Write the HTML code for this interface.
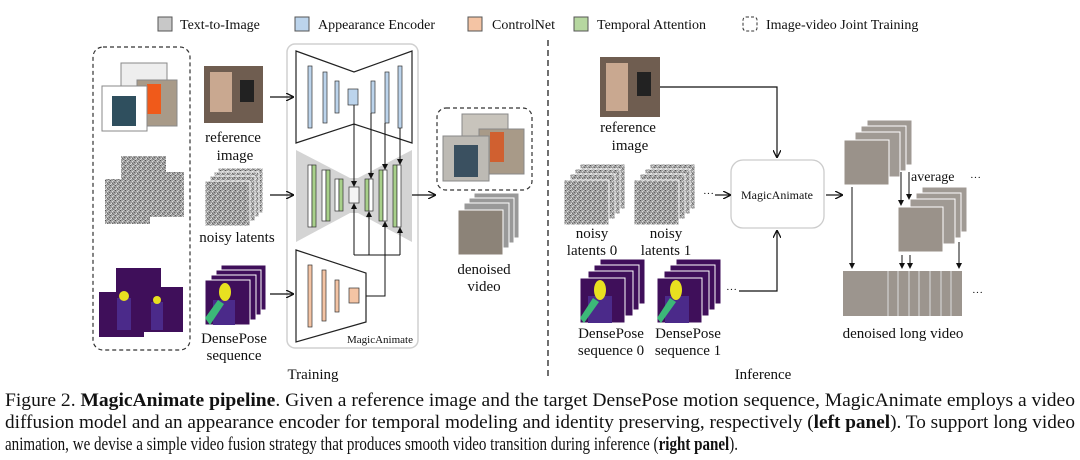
<!DOCTYPE html>
<html><head><meta charset="utf-8"><style>
html,body{margin:0;padding:0;background:#fff;width:1080px;height:460px;overflow:hidden}
svg{display:block}
text{font-family:"Liberation Serif",serif;fill:#111}
</style></head><body>
<svg width="1080" height="460" viewBox="0 0 1080 460" xmlns="http://www.w3.org/2000/svg">
<defs>
<pattern id="nz" width="5" height="5" patternUnits="userSpaceOnUse">
<rect width="5" height="5" fill="#a0a0a0"/><rect x="0" y="0" width="1" height="1" fill="#555"/><rect x="2" y="1" width="1" height="1" fill="#ddd"/><rect x="4" y="2" width="1" height="1" fill="#666"/><rect x="1" y="3" width="1" height="1" fill="#e0e0e0"/><rect x="3" y="4" width="1" height="1" fill="#777"/><rect x="3" y="0" width="1" height="1" fill="#ccc"/><rect x="0" y="4" width="1" height="1" fill="#d8d8d8"/><rect x="2" y="3" width="1" height="1" fill="#6a6a6a"/>
</pattern>
<marker id="ah" markerWidth="8" markerHeight="8" refX="7" refY="4" orient="auto" markerUnits="userSpaceOnUse"><path d="M0,0 L8,4 L0,8" fill="none" stroke="#111" stroke-width="1.3"/></marker>
<marker id="as" markerWidth="6" markerHeight="6" refX="5" refY="3" orient="auto" markerUnits="userSpaceOnUse"><path d="M0,0 L6,3 L0,6 z" fill="#111"/></marker>
</defs>

<g font-size="14">
<rect x="158" y="17" width="14" height="14" fill="#c8c8c8" stroke="#555"/><text x="180" y="29">Text-to-Image</text>
<rect x="295" y="17" width="14" height="14" fill="#bcd4ec" stroke="#555"/><text x="318" y="29">Appearance Encoder</text>
<rect x="468" y="17" width="14" height="14" fill="#f4c4a4" stroke="#555"/><text x="492" y="29">ControlNet</text>
<rect x="574" y="17" width="14" height="14" fill="#b6d7a0" stroke="#555"/><text x="597" y="29">Temporal Attention</text>
<rect x="743" y="17" width="14" height="14" rx="3" fill="none" stroke="#333" stroke-dasharray="3,2"/><text x="766" y="29">Image-video Joint Training</text>
</g>

<rect x="93" y="47" width="97" height="303" rx="10" fill="none" stroke="#333" stroke-width="1.2" stroke-dasharray="4,3"/>
<rect x="121" y="63" width="46" height="33" fill="#eee" stroke="#888"/>
<rect x="137" y="80" width="40" height="46" fill="#a89a88" stroke="#888"/>
<rect x="147" y="84" width="14" height="30" fill="#f05a1a"/>
<rect x="102" y="86" width="45" height="45" fill="#fff" stroke="#888"/>
<rect x="112" y="96" width="24" height="30" fill="#2f4f5e"/>
<rect x="121" y="156" width="45" height="24" fill="url(#nz)"/>
<rect x="139" y="172" width="45" height="45" fill="url(#nz)"/>
<rect x="105" y="179" width="45" height="45" fill="url(#nz)"/>
<rect x="116" y="268" width="45" height="30" fill="#3f0f5a"/>
<rect x="138" y="287" width="45" height="45" fill="#3f0f5a"/>
<rect x="99" y="292" width="45" height="45" fill="#3f0f5a"/>
<rect x="117" y="298" width="14" height="32" fill="#4b2a8a"/><circle cx="124" cy="296" r="5" fill="#e8e020"/>
<rect x="151" y="302" width="12" height="28" fill="#4b2a8a"/><circle cx="157" cy="300" r="4" fill="#e8e020"/>

<rect x="204" y="66" width="59" height="57" fill="#6f5d50"/><rect x="240" y="80" width="14" height="22" fill="#222"/><rect x="210" y="72" width="22" height="40" fill="#c9a890"/>
<text x="233" y="142" font-size="15" text-anchor="middle">reference</text>
<text x="235" y="160" font-size="15" text-anchor="middle">image</text>
<rect x="218" y="168" width="45" height="45" fill="url(#nz)" stroke="#fff"/>
<rect x="214" y="172" width="45" height="45" fill="url(#nz)" stroke="#fff"/>
<rect x="210" y="176" width="45" height="45" fill="url(#nz)" stroke="#fff"/>
<rect x="205" y="181" width="45" height="45" fill="url(#nz)" stroke="#fff"/>
<text x="237" y="242" font-size="15" text-anchor="middle">noisy latents</text>
<rect x="221" y="265" width="45" height="45" fill="#3f0f5a" stroke="#fff"/>
<rect x="216" y="270" width="45" height="45" fill="#3f0f5a" stroke="#fff"/>
<rect x="211" y="275" width="45" height="45" fill="#3f0f5a" stroke="#fff"/>
<rect x="205" y="280" width="45" height="45" fill="#3f0f5a" stroke="#fff"/>
<rect x="213" y="300" width="22" height="25" fill="#4b2a8a"/><path d="M205,318 L218,300 L224,304 L210,325 Z" fill="#3cb878"/><ellipse cx="225" cy="292" rx="6" ry="9" fill="#e8e020"/>
<text x="234" y="343" font-size="15" text-anchor="middle">DensePose</text>
<text x="234" y="360" font-size="15" text-anchor="middle">sequence</text>

<rect x="287" y="44" width="131" height="304" rx="8" fill="none" stroke="#d0d0d0" stroke-width="1.5"/>
<line x1="270" y1="97" x2="293" y2="97" stroke="#111" stroke-width="1.3" marker-end="url(#ah)"/>
<line x1="270" y1="195" x2="293" y2="195" stroke="#111" stroke-width="1.3" marker-end="url(#ah)"/>
<line x1="270" y1="294" x2="293" y2="294" stroke="#111" stroke-width="1.3" marker-end="url(#ah)"/>
<polygon points="296,51 354,72 412,51 412,143 354,124 296,143" fill="#fff" stroke="#222" stroke-width="1.2"/>
<g fill="#bcd4ec" stroke="#333" stroke-width="0.7">
<rect x="308" y="66" width="4" height="62"/><rect x="323" y="72" width="4" height="51"/><rect x="335" y="81" width="4" height="32"/>
<rect x="348" y="89" width="10" height="16"/>
<rect x="371" y="81" width="4" height="32"/><rect x="385" y="72" width="4" height="51"/><rect x="398" y="66" width="4" height="62"/>
</g>
<polygon points="296,150 350,178 358,178 412,150 412,242 358,213 350,213 296,242" fill="#d4d4d4"/>
<g stroke="#333" stroke-width="0.7">
<rect x="308" y="165" width="4" height="62" fill="#fff"/><rect x="312" y="165" width="4" height="62" fill="#a8d08a"/>
<rect x="322" y="170" width="4" height="51" fill="#fff"/><rect x="326" y="170" width="4" height="51" fill="#a8d08a"/>
<rect x="335" y="179" width="4" height="32" fill="#fff"/><rect x="339" y="179" width="4" height="32" fill="#a8d08a"/>
<rect x="349" y="187" width="10" height="16" fill="#f4f4f4"/>
<rect x="365" y="179" width="4" height="32" fill="#a8d08a"/><rect x="369" y="179" width="4" height="32" fill="#fff"/>
<rect x="379" y="170" width="4" height="51" fill="#a8d08a"/><rect x="383" y="170" width="4" height="51" fill="#fff"/>
<rect x="393" y="165" width="4" height="62" fill="#a8d08a"/><rect x="397" y="165" width="4" height="62" fill="#fff"/>
</g>
<g stroke="#111" stroke-width="1" fill="none">
<line x1="354" y1="105" x2="354" y2="186" marker-end="url(#as)"/>
<line x1="371" y1="113" x2="371" y2="178" marker-end="url(#as)"/>
<line x1="385" y1="123" x2="385" y2="169" marker-end="url(#as)"/>
<line x1="400" y1="128" x2="400" y2="164" marker-end="url(#as)"/>
<polyline points="354,255 400,255"/>
<line x1="354" y1="255" x2="354" y2="204" marker-end="url(#as)"/>
<line x1="369" y1="255" x2="369" y2="212" marker-end="url(#as)"/>
<line x1="385" y1="255" x2="385" y2="222" marker-end="url(#as)"/>
<line x1="400" y1="255" x2="400" y2="228" marker-end="url(#as)"/>
<polyline points="359,296 385,296 385,255"/>
</g>
<polygon points="296,250 366,273 366,322 296,342" fill="#fff" stroke="#222" stroke-width="1.2"/>
<g fill="#f4c4a4" stroke="#333" stroke-width="0.7">
<rect x="308" y="265" width="4" height="62"/><rect x="322" y="270" width="4" height="51"/><rect x="335" y="280" width="4" height="32"/>
<rect x="349" y="288" width="10" height="15"/>
</g>
<text x="413" y="343" font-size="11" text-anchor="end">MagicAnimate</text>

<line x1="412" y1="195" x2="435" y2="195" stroke="#111" stroke-width="1.3" marker-end="url(#ah)"/>
<rect x="437" y="108" width="95" height="82" rx="9" fill="none" stroke="#333" stroke-width="1.2" stroke-dasharray="4,3"/>
<rect x="462" y="114" width="46" height="30" fill="#c8c4bc" stroke="#888"/>
<rect x="479" y="129" width="45" height="45" fill="#a89a88" stroke="#888"/>
<rect x="490" y="132" width="14" height="30" fill="#d06030"/>
<rect x="443" y="136" width="46" height="45" fill="#bdbab4" stroke="#888"/>
<rect x="454" y="145" width="24" height="32" fill="#3a5060"/>
<rect x="474" y="193" width="45" height="45" fill="#999" stroke="#fff"/>
<rect x="469" y="198" width="45" height="45" fill="#999" stroke="#fff"/>
<rect x="464" y="203" width="45" height="45" fill="#999" stroke="#fff"/>
<rect x="458" y="210" width="45" height="45" fill="#8c8378" stroke="#fff"/>
<text x="484" y="274" font-size="15" text-anchor="middle">denoised</text>
<text x="484" y="291" font-size="15" text-anchor="middle">video</text>
<text x="313" y="379" font-size="15" text-anchor="middle">Training</text>

<line x1="548" y1="40" x2="548" y2="380" stroke="#222" stroke-width="1.3" stroke-dasharray="6,4"/>

<rect x="600" y="57" width="60" height="60" fill="#6f5d50"/><rect x="637" y="72" width="14" height="24" fill="#222"/><rect x="606" y="63" width="22" height="48" fill="#c9a890"/>
<text x="628" y="132" font-size="15" text-anchor="middle">reference</text>
<text x="630" y="150" font-size="15" text-anchor="middle">image</text>
<polyline points="660,87 777,87 777,157" fill="none" stroke="#111" stroke-width="1.2" marker-end="url(#ah)"/>
<rect x="731" y="160" width="93" height="68" rx="12" fill="#fff" stroke="#ccc" stroke-width="1.3"/>
<text x="777" y="199" font-size="12" text-anchor="middle">MagicAnimate</text>

<g stroke="#fff">
<rect x="580" y="164" width="45" height="45" fill="url(#nz)"/><rect x="575" y="169" width="45" height="45" fill="url(#nz)"/><rect x="570" y="174" width="45" height="45" fill="url(#nz)"/><rect x="564" y="180" width="45" height="45" fill="url(#nz)"/>
<rect x="650" y="164" width="45" height="45" fill="url(#nz)"/><rect x="645" y="169" width="45" height="45" fill="url(#nz)"/><rect x="640" y="174" width="45" height="45" fill="url(#nz)"/><rect x="634" y="180" width="45" height="45" fill="url(#nz)"/>
</g>
<text x="592" y="238" font-size="15" text-anchor="middle">noisy</text>
<text x="592" y="255" font-size="15" text-anchor="middle">latents 0</text>
<text x="666" y="238" font-size="15" text-anchor="middle">noisy</text>
<text x="666" y="255" font-size="15" text-anchor="middle">latents 1</text>
<text x="703" y="197" font-size="11">···</text>
<line x1="715" y1="195" x2="730" y2="195" stroke="#111" stroke-width="1.2" marker-end="url(#ah)"/>

<g stroke="#fff">
<rect x="600" y="259" width="45" height="45" fill="#3f0f5a"/><rect x="594" y="265" width="45" height="45" fill="#3f0f5a"/><rect x="588" y="271" width="45" height="45" fill="#3f0f5a"/><rect x="580" y="278" width="45" height="45" fill="#3f0f5a"/>
<rect x="676" y="259" width="45" height="45" fill="#3f0f5a"/><rect x="670" y="265" width="45" height="45" fill="#3f0f5a"/><rect x="664" y="271" width="45" height="45" fill="#3f0f5a"/><rect x="657" y="278" width="45" height="45" fill="#3f0f5a"/>
</g>
<rect x="588" y="296" width="24" height="27" fill="#4b2a8a"/><path d="M580,318 L593,298 L599,302 L584,323 Z" fill="#3cb878"/><ellipse cx="600" cy="290" rx="6" ry="10" fill="#e8e020"/>
<rect x="665" y="296" width="24" height="27" fill="#4b2a8a"/><path d="M657,318 L670,298 L676,302 L661,323 Z" fill="#3cb878"/><ellipse cx="676" cy="290" rx="6" ry="10" fill="#e8e020"/>
<text x="611" y="338" font-size="15" text-anchor="middle">DensePose</text>
<text x="611" y="355" font-size="15" text-anchor="middle">sequence 0</text>
<text x="688" y="338" font-size="15" text-anchor="middle">DensePose</text>
<text x="688" y="355" font-size="15" text-anchor="middle">sequence 1</text>
<text x="726" y="293" font-size="11">···</text>
<polyline points="739,291 777,291 777,231" fill="none" stroke="#111" stroke-width="1.2" marker-end="url(#ah)"/>
<line x1="826" y1="195" x2="842" y2="195" stroke="#111" stroke-width="1.2" marker-end="url(#ah)"/>

<g stroke="#fff">
<rect x="867" y="120" width="45" height="45" fill="#a09a94"/><rect x="861" y="126" width="45" height="45" fill="#a09a94"/><rect x="855" y="132" width="45" height="45" fill="#a09a94"/>
<rect x="844" y="140" width="45" height="45" fill="#9a928a"/>
<rect x="922" y="187" width="45" height="45" fill="#a09a94"/><rect x="916" y="193" width="45" height="45" fill="#a09a94"/><rect x="910" y="199" width="45" height="45" fill="#a09a94"/>
<rect x="898" y="207" width="45" height="45" fill="#9a928a"/>
</g>
<text x="911" y="181" font-size="14">average</text>
<text x="970" y="181" font-size="11">···</text>
<rect x="843" y="271" width="119" height="45" fill="#9c958e"/>
<g stroke="#ddd" stroke-width="1"><line x1="888" y1="271" x2="888" y2="316"/><line x1="898" y1="271" x2="898" y2="316"/><line x1="909" y1="271" x2="909" y2="316"/><line x1="919" y1="271" x2="919" y2="316"/><line x1="930" y1="271" x2="930" y2="316"/><line x1="941" y1="271" x2="941" y2="316"/><line x1="951" y1="271" x2="951" y2="316"/></g>
<text x="972" y="296" font-size="11">···</text>
<g stroke="#111" stroke-width="1" fill="none">
<line x1="852" y1="187" x2="852" y2="268" marker-end="url(#as)"/>
<line x1="901" y1="172" x2="901" y2="205" marker-end="url(#as)"/>
<line x1="909" y1="172" x2="909" y2="199" marker-end="url(#as)"/>
<line x1="902" y1="255" x2="902" y2="268" marker-end="url(#as)"/>
<line x1="910" y1="255" x2="910" y2="268" marker-end="url(#as)"/>
<line x1="959" y1="242" x2="959" y2="268" marker-end="url(#as)"/>
</g>
<text x="903" y="338" font-size="15" text-anchor="middle">denoised long video</text>
<text x="763" y="379" font-size="15" text-anchor="middle">Inference</text>

<g font-size="19">
<text x="5" y="406" textLength="1070" lengthAdjust="spacingAndGlyphs">Figure 2. <tspan font-weight="bold">MagicAnimate pipeline</tspan>. Given a reference image and the target DensePose motion sequence, MagicAnimate employs a video</text>
<text x="5" y="428" textLength="1070" lengthAdjust="spacingAndGlyphs">diffusion model and an appearance encoder for temporal modeling and identity preserving, respectively (<tspan font-weight="bold">left panel</tspan>). To support long video</text>
<text x="5" y="450" textLength="733" lengthAdjust="spacingAndGlyphs">animation, we devise a simple video fusion strategy that produces smooth video transition during inference (<tspan font-weight="bold">right panel</tspan>).</text>
</g>
</svg>
</body></html>
